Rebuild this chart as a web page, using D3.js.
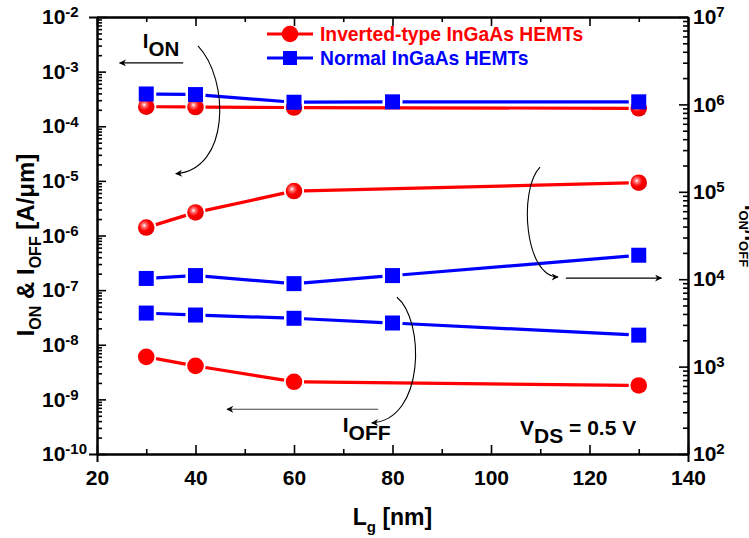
<!DOCTYPE html>
<html lang="en">
<head>
  <meta charset="utf-8" />
  <style>
    body { margin: 0; background: #fff; }
    svg { font-family: Arial, "Liberation Sans", sans-serif; font-weight: bold; }
  </style>
</head>
<body>
<svg width="749" height="538"></svg>
<script src="https://cdnjs.cloudflare.com/ajax/libs/d3/7.8.5/d3.min.js"></script>
<script>
// gate length [nm]
var lgInverted = [30, 40, 60, 130],
    lgNormal = [30, 40, 60, 80, 130];

// currents [A/um] (left axis) and on/off ratio (right axis)
var ionInverted = [2.28e-4, 2.25e-4, 2.2e-4, 2.13e-4],
    ioffInverted = [6.0e-9, 4.1e-9, 2.1e-9, 1.8e-9],
    ratioInverted = [3.9e4, 5.8e4, 1.02e5, 1.27e5];

var ionNormal = [3.9e-4, 3.8e-4, 2.75e-4, 2.8e-4, 2.8e-4],
    ioffNormal = [3.8e-8, 3.5e-8, 3.05e-8, 2.5e-8, 1.5e-8],
    ratioNormal = [1.02e4, 1.1e4, 8.9e3, 1.1e4, 1.88e4];

var xTicks = [20, 40, 60, 80, 100, 120, 140],
    xMinor = [30, 50, 70, 90, 110, 130],
    curExps = [-10, -9, -8, -7, -6, -5, -4, -3, -2],
    ratioExps = [2, 3, 4, 5, 6, 7];

var svg = d3.select("svg"),
    plotL = 97, plotR = 688, plotT = 17, plotB = 454,
    red = "#ff0000", blue = "#0000ff";

var x = d3.scaleLinear().domain([20, 140]).range([plotL, plotR]);
var yCur = d3.scaleLog().domain([1e-10, 1e-2]).range([plotB, plotT]);
var yRatio = d3.scaleLog().domain([1e2, 1e7]).range([plotB, plotT]);

var defs = svg.append("defs");
var grad = defs.append("radialGradient").attr("id", "ball")
  .attr("cx", "38%").attr("cy", "38%").attr("r", "60%");
grad.append("stop").attr("offset", "0%").attr("stop-color", "#ffffff");
grad.append("stop").attr("offset", "22%").attr("stop-color", "#ff7070");
grad.append("stop").attr("offset", "55%").attr("stop-color", "#ff0000");
grad.append("stop").attr("offset", "100%").attr("stop-color", "#e80000");

defs.append("marker").attr("id", "head")
  .attr("viewBox", "0 0 10 10").attr("refX", 9).attr("refY", 5)
  .attr("markerWidth", 11).attr("markerHeight", 7)
  .attr("markerUnits", "userSpaceOnUse").attr("orient", "auto")
  .append("path").attr("d", "M0,0L10,5L0,10L3,5z").attr("fill", "#000");

function minors(exps) {
  var out = [];
  exps.slice(0, -1).forEach(function(e) {
    for (var k = 2; k < 10; k++) out.push(k * Math.pow(10, e));
  });
  return out;
}

function styleAxis(g) {
  g.select(".domain").attr("stroke-width", 2);
  g.selectAll(".tick line").attr("stroke-width", 1.6);
  g.attr("font-size", 21).attr("font-family", null);
}

// "10" with a superscript exponent; left labels start at a common x
function powLabels(g, exps, startX) {
  g.selectAll(".tick text").each(function(d, i) {
    var t = d3.select(this).text(null);
    if (startX != null) t.attr("text-anchor", "start").attr("x", startX);
    t.append("tspan").text("10");
    t.append("tspan").attr("dy", "-0.45em").attr("font-size", 15)
      .text(exps[i]);
  });
}

// axes, ticks inside
svg.append("g").attr("transform", "translate(0," + plotB + ")")
  .call(d3.axisBottom(x).tickValues(xMinor).tickSize(-5).tickSizeOuter(0).tickFormat(""))
  .call(styleAxis);
svg.append("g").attr("transform", "translate(0," + plotB + ")")
  .call(d3.axisBottom(x).tickValues(xTicks).tickSize(-9).tickSizeOuter(8).tickPadding(16))
  .call(styleAxis);
svg.append("g").attr("transform", "translate(0," + plotT + ")")
  .call(d3.axisTop(x).tickValues(xMinor).tickSize(-5).tickSizeOuter(0).tickFormat(""))
  .call(styleAxis);
svg.append("g").attr("transform", "translate(0," + plotT + ")")
  .call(d3.axisTop(x).tickValues(xTicks).tickSize(-9).tickSizeOuter(0).tickFormat(""))
  .call(styleAxis);

svg.append("g").attr("transform", "translate(" + plotL + ",0)")
  .call(d3.axisLeft(yCur).tickValues(minors(curExps)).tickSize(-5).tickSizeOuter(0).tickFormat(""))
  .call(styleAxis);
svg.append("g").attr("transform", "translate(" + plotL + ",0)")
  .call(d3.axisLeft(yCur).tickValues(curExps.map(function(e) { return Math.pow(10, e); }))
    .tickSize(-9).tickSizeOuter(8).tickPadding(9))
  .call(styleAxis)
  .call(powLabels, curExps, -55);

svg.append("g").attr("transform", "translate(" + plotR + ",0)")
  .call(d3.axisRight(yRatio).tickValues(minors(ratioExps)).tickSize(-5).tickSizeOuter(0).tickFormat(""))
  .call(styleAxis);
svg.append("g").attr("transform", "translate(" + plotR + ",0)")
  .call(d3.axisRight(yRatio).tickValues(ratioExps.map(function(e) { return Math.pow(10, e); }))
    .tickSize(-9).tickSizeOuter(0).tickPadding(5))
  .call(styleAxis)
  .call(powLabels, ratioExps);

// axis titles
var yt = svg.append("text").attr("transform", "translate(34,245)rotate(-90)")
  .attr("text-anchor", "middle").attr("font-size", 24);
yt.append("tspan").text("I");
yt.append("tspan").attr("dy", 7).attr("font-size", 16).text("ON");
yt.append("tspan").attr("dy", -7).text(" & I");
yt.append("tspan").attr("dy", 7).attr("font-size", 16).text("OFF");
yt.append("tspan").attr("dy", -7).text(" [A/\u03bcm]");

var rt = svg.append("text").attr("transform", "translate(745,236)rotate(90)")
  .attr("text-anchor", "middle").attr("font-size", 20);
rt.append("tspan").text("I");
rt.append("tspan").attr("dy", 6).attr("font-size", 13).text("ON");
rt.append("tspan").attr("dy", -6).text("/I");
rt.append("tspan").attr("dy", 6).attr("font-size", 13).text("OFF");

var xt = svg.append("text").attr("x", x(80)).attr("y", 525)
  .attr("text-anchor", "middle").attr("font-size", 23);
xt.append("tspan").text("L");
xt.append("tspan").attr("dy", 7).attr("font-size", 15).text("g");
xt.append("tspan").attr("dy", -7).text(" [nm]");

// series: lines with a small gap at each marker
function series(xs, ys, yScale, color, shape, shaded) {
  var pts = xs.map(function(d, i) { return [x(d), yScale(ys[i])]; });
  var gap = 10;
  var segs = d3.pairs(pts).map(function(p) {
    var dx = p[1][0] - p[0][0], dy = p[1][1] - p[0][1],
        len = Math.sqrt(dx * dx + dy * dy), ux = dx / len, uy = dy / len;
    return [[p[0][0] + ux * gap, p[0][1] + uy * gap],
            [p[1][0] - ux * gap, p[1][1] - uy * gap]];
  });
  var g = svg.append("g");
  g.selectAll("line").data(segs).enter().append("line")
    .attr("x1", function(d) { return d[0][0]; }).attr("y1", function(d) { return d[0][1]; })
    .attr("x2", function(d) { return d[1][0]; }).attr("y2", function(d) { return d[1][1]; })
    .attr("stroke", color).attr("stroke-width", 3.2);
  if (shape === "circle") {
    g.selectAll("circle").data(pts).enter().append("circle")
      .attr("cx", function(d) { return d[0]; }).attr("cy", function(d) { return d[1]; })
      .attr("r", 8.3).attr("fill", shaded ? "url(#ball)" : color);
  } else {
    g.selectAll("rect").data(pts).enter().append("rect")
      .attr("x", function(d) { return d[0] - 7.5; }).attr("y", function(d) { return d[1] - 7.5; })
      .attr("width", 15).attr("height", 15).attr("fill", color);
  }
}

series(lgInverted, ionInverted, yCur, red, "circle", true);
series(lgInverted, ratioInverted, yRatio, red, "circle", true);
series(lgInverted, ioffInverted, yCur, red, "circle", false);
series(lgNormal, ionNormal, yCur, blue, "square");
series(lgNormal, ratioNormal, yRatio, blue, "square");
series(lgNormal, ioffNormal, yCur, blue, "square");

// legend
var legend = [
  {label: "Inverted-type InGaAs HEMTs", color: red, shape: "circle", y: 34},
  {label: "Normal InGaAs HEMTs", color: blue, shape: "square", y: 58}
];
var lg = svg.selectAll(".leg").data(legend).enter().append("g").attr("class", "leg");
lg.append("line").attr("x1", 267).attr("x2", 313)
  .attr("y1", function(d) { return d.y; }).attr("y2", function(d) { return d.y; })
  .attr("stroke", function(d) { return d.color; }).attr("stroke-width", 3.2);
lg.filter(function(d) { return d.shape === "circle"; }).append("circle")
  .attr("cx", 290).attr("cy", function(d) { return d.y; }).attr("r", 8.3).attr("fill", red);
lg.filter(function(d) { return d.shape === "square"; }).append("rect")
  .attr("x", 283).attr("y", function(d) { return d.y - 7; }).attr("width", 14).attr("height", 14)
  .attr("fill", blue);
lg.append("text").attr("x", 320).attr("y", function(d) { return d.y + 6.5; })
  .attr("font-size", 19.3).attr("fill", function(d) { return d.color; })
  .text(function(d) { return d.label; });

// annotations, placed in data units (nm, log10 of current)
function p(nm, e) { return x(nm) + "," + yCur(Math.pow(10, e)); }

function arrow(d, color) {
  svg.append("path").attr("d", d).attr("fill", "none")
    .attr("stroke", color || "#000").attr("stroke-width", 1.1)
    .attr("marker-end", "url(#head)");
}

arrow("M" + p(37.5, -2.84) + "L" + p(24.6, -2.84));
arrow("M" + p(40.5, -2.53) + "C" + p(47, -3.15) + " " + p(47, -4.8) + " " + p(36, -4.87));
arrow("M" + p(109.95, -4.75) + "C" + p(105.5, -5.17) + " " + p(106.9, -6.76) + " " + p(113.6, -6.76));
arrow("M" + p(115.2, -6.78) + "L" + p(134.6, -6.78));
arrow("M" + p(77.1, -9.18) + "L" + p(46.4, -9.18), "#444");
arrow("M" + p(80.9, -7.13) + "C" + p(86.6, -7.55) + " " + p(86.6, -9.38) + " " + p(75.8, -9.43));

function subLabel(nm, e, main, sub, rest, size) {
  var t = svg.append("text").attr("x", x(nm)).attr("y", yCur(Math.pow(10, e)))
    .attr("font-size", size);
  t.append("tspan").text(main);
  t.append("tspan").attr("dy", 8).text(sub);
  if (rest) t.append("tspan").attr("dy", -8).text(rest);
}

subLabel(29.3, -2.57, "I", "ON", null, 20.5);
subLabel(69.9, -9.6, "I", "OFF", null, 21);
subLabel(105.9, -9.65, "V", "DS", " = 0.5 V", 21);
</script>
</body>
</html>
